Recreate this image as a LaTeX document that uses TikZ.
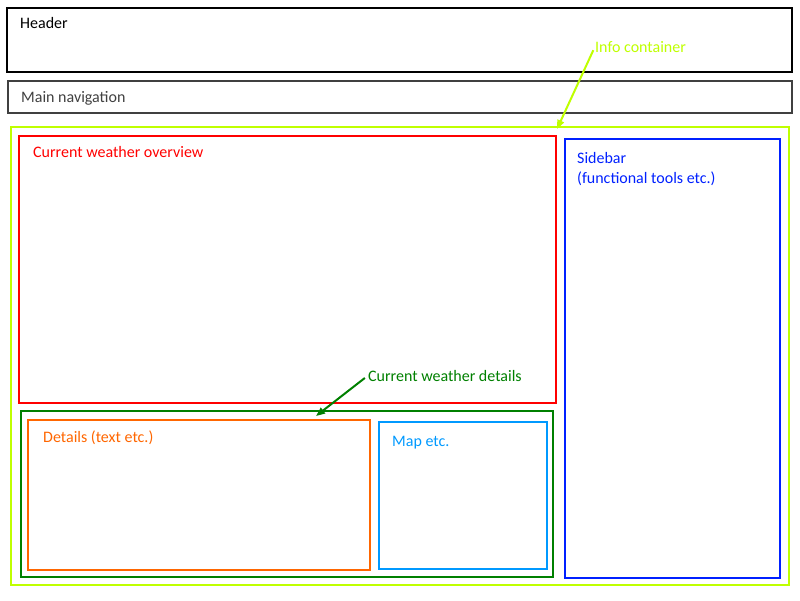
\documentclass[tikz,border=0pt]{standalone}
\usepackage{fontspec}
\setmainfont{Carlito}
\usepackage{xcolor}
\definecolor{ColHead}{RGB}{0,0,0}
\definecolor{ColNav}{RGB}{64,64,64}
\definecolor{ColInfo}{RGB}{191,255,0}
\definecolor{ColOver}{RGB}{255,0,0}
\definecolor{ColSide}{RGB}{0,32,255}
\definecolor{ColDet}{RGB}{0,128,0}
\definecolor{ColText}{RGB}{255,102,0}
\definecolor{ColMap}{RGB}{0,153,255}
\usetikzlibrary{fit}
\usetikzlibrary{arrows.meta}
\tikzstyle{Box}=[draw,line width=2pt,inner sep=0pt]
\tikzstyle{Label}=[anchor=base west,inner sep=0pt,
font=\fontsize{16}{20}\selectfont]
\tikzstyle{Pointer}=[line width=2pt,shorten <=4pt,
-{Triangle[length=9pt,width=7pt]}]

\begin{document}
\begin{tikzpicture}[x=1pt,y=-1pt]
        \useasboundingbox (0,0) rectangle (800,600);
        % boxes
        \node[Box,draw=ColHead,fit={(7,8)(792,72)}](header){};
        \node[Box,draw=ColNav,fit={(8,81)(792,113)}](nav){};
        \node[Box,draw=ColInfo,fit={(11,127)(789,585)}](info){};
        \node[Box,draw=ColOver,fit={(19,136)(556,403)}](overview){};
        \node[Box,draw=ColSide,fit={(565,139)(780,578)}](sidebar){};
        \node[Box,draw=ColDet,fit={(21,411)(553,577)}](details){};
        \node[Box,draw=ColText,fit={(28,420)(370,570)}](text){};
        \node[Box,draw=ColMap,fit={(379,422)(547,569)}](map){};
        % labels
        \node[Label,text=ColHead](headerT)at(20,28){Header};
        \node[Label,text=ColNav](navT)at(21,102){Main navigation};
        \node[Label,text=ColInfo](infoT)at(595,52){Info container};
        \node[Label,text=ColOver](overviewT)at(33,157){Current weather overview};
        \node[Label,text=ColSide,align=left](sidebarT)at(577,183){Sidebar\\
            (functional tools etc.)};
        \node[Label,text=ColDet](detailsT)at(368,381){Current weather details};
        \node[Label,text=ColText](textT)at(43,442){Details (text etc.)};
        \node[Label,text=ColMap](mapT)at(392,446){Map etc.};
        % pointers
        \coordinate(infoTip)at(557,129);
        \coordinate(detailsTip)at(316,416);
        \draw[Pointer,draw=ColInfo,fill=ColInfo](infoT.west)--(infoTip);
        \draw[Pointer,draw=ColDet,fill=ColDet](detailsT.west)--(detailsTip);
    \end{tikzpicture}
\end{document}
